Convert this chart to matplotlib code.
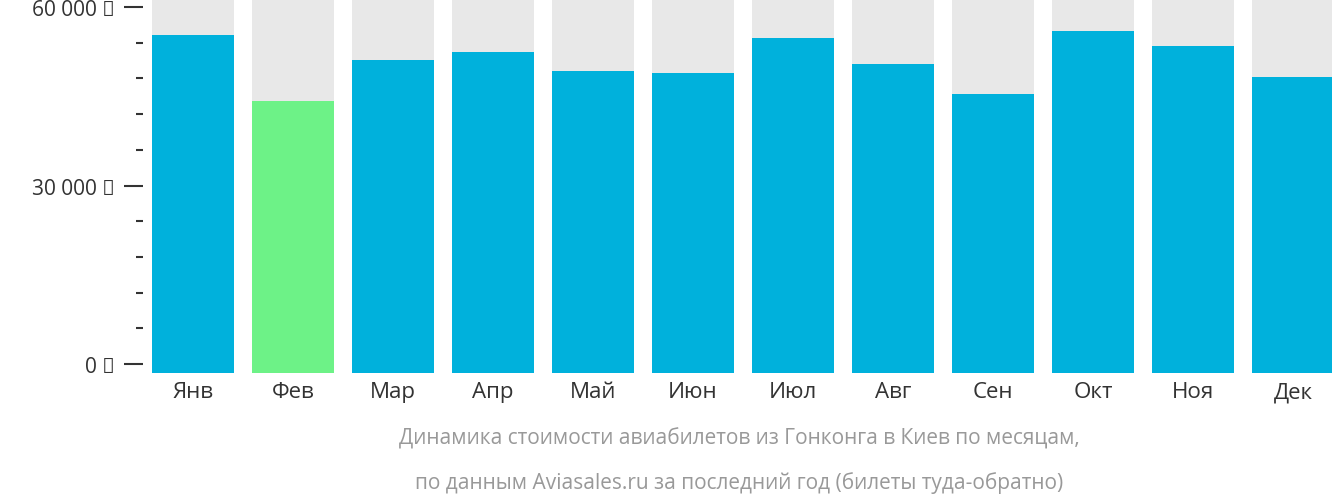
import matplotlib
matplotlib.use("Agg")
import matplotlib.pyplot as plt
from matplotlib.ticker import MultipleLocator

months = ["Янв","Фев","Мар","Апр","Май","Июн","Июл","Авг","Сен","Окт","Ноя","Дек"]
prices = [55300, 44200, 51100, 52400, 49250, 48900, 54800, 50400, 45400, 56000, 53450, 48250]
colors = ["#00b1dc", "#6df287"] + ["#00b1dc"] * 10
ymax = 61350
base = -1500

fig = plt.figure(figsize=(13.32, 5.02), dpi=100)
ax = fig.add_axes([143/1332, (502-374)/502, 1-143/1332, 374/502])
x = list(range(len(months)))
ax.bar(x, [ymax - base]*12, bottom=base, width=0.82, color="#e8e8e8")
ax.bar(x, [p - base for p in prices], bottom=base, width=0.82, color=colors)
ax.set_xlim(-0.5, 11.39)
ax.set_ylim(base, ymax)
for s in ax.spines.values():
    s.set_visible(False)
ax.set_yticks([0, 30000, 60000])
ax.set_yticklabels(["0 ₽", "30 000 ₽", "60 000 ₽"])
ax.yaxis.set_minor_locator(MultipleLocator(6000))
ax.tick_params(axis="y", which="major", length=14, width=1.5, color="#333333", pad=6,
               labelsize=15, labelcolor="#333333")
ax.tick_params(axis="y", which="minor", length=5, width=1.5, color="#333333")
ax.set_xticks(x)
ax.set_xticklabels(months, fontsize=16, color="#333333", fontname="Open Sans")
ax.tick_params(axis="x", length=0, pad=6)
for t in ax.get_yticklabels():
    t.set_fontname("Open Sans")
fig.text(0.555, 0.115, "Динамика стоимости авиабилетов из Гонконга в Киев по месяцам,",
         ha="center", fontsize=15, color="#999999", fontname="Open Sans")
fig.text(0.555, 0.025, "по данным Aviasales.ru за последний год (билеты туда-обратно)",
         ha="center", fontsize=15, color="#999999", fontname="Open Sans")
fig.savefig("out.png", dpi=100)
